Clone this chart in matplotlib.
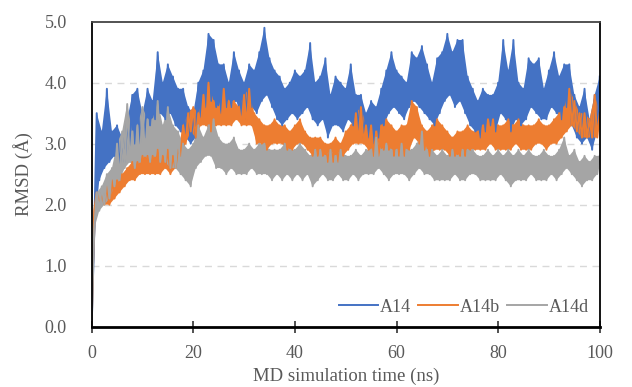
import numpy as np
import matplotlib
matplotlib.use('Agg')
from matplotlib import pyplot as plt

plt.rcParams['font.family'] = ['Liberation Serif', 'DejaVu Serif']

# RMSD: upper envelope at whole ns, lower envelope at half ns
a14_hi = [0.0, 3.5, 3.2, 3.9, 3.2, 3.3, 3.1, 3.4, 3.8, 3.9,
          3.5, 3.9, 3.7, 4.5, 4.0, 4.3, 4.1, 3.9, 3.9, 3.6,
          3.5, 4.0, 4.2, 4.8, 4.7, 4.3, 4.3, 4.0, 4.5, 4.2,
          4.0, 4.3, 4.2, 4.5, 4.9, 4.4, 4.2, 4.1, 3.9, 4.0,
          4.2, 4.1, 4.2, 4.65, 4.0, 4.1, 4.4, 3.8, 4.1, 4.0,
          3.9, 4.3, 3.8, 3.8, 3.5, 3.7, 3.6, 3.9, 4.2, 4.5,
          4.2, 4.1, 4.0, 4.5, 4.4, 4.6, 4.3, 4.0, 4.4, 4.5,
          4.8, 4.5, 4.7, 4.7, 4.1, 3.9, 3.7, 3.9, 3.8, 3.8,
          4.0, 4.7, 4.2, 4.7, 4.0, 3.9, 4.4, 4.3, 4.4, 3.9,
          4.2, 4.5, 4.1, 4.3, 4.3, 3.8, 3.6, 3.9, 3.4, 3.8, 4.1]
a14_lo = [1.5, 2.4, 2.6, 2.7, 2.8, 2.6, 2.7, 2.9, 3.0, 3.0,
          3.1, 3.3, 3.4, 3.5, 3.4, 3.5, 3.3, 3.2, 3.1, 3.0,
          3.1, 3.4, 3.6, 3.7, 3.6, 3.5, 3.6, 3.6, 3.7, 3.4,
          3.4, 3.6, 3.5, 3.7, 3.8, 3.6, 3.4, 3.3, 3.4, 3.5,
          3.4, 3.5, 3.6, 3.4, 3.3, 3.4, 3.1, 3.3, 3.3, 3.2,
          3.4, 3.3, 3.2, 3.1, 3.1, 3.0, 3.1, 3.3, 3.5, 3.6,
          3.5, 3.4, 3.6, 3.7, 3.6, 3.5, 3.4, 3.3, 3.5, 3.7,
          3.8, 3.6, 3.7, 3.5, 3.3, 3.2, 3.1, 3.2, 3.3, 3.2,
          3.5, 3.4, 3.2, 3.4, 3.3, 3.4, 3.6, 3.5, 3.4, 3.4,
          3.6, 3.5, 3.4, 3.6, 3.3, 3.1, 3.0, 3.1, 2.9, 3.2]

a14b_hi = [0.0, 2.2, 2.2, 2.3, 2.4, 2.4, 2.5, 2.6, 2.7, 2.7,
           2.8, 2.8, 2.8, 2.9, 2.8, 2.9, 2.8, 2.9, 3.3, 3.5,
           3.6, 3.5, 3.8, 4.0, 3.7, 3.6, 3.9, 3.7, 3.7, 3.6,
           3.8, 3.9, 3.5, 3.4, 3.3, 3.3, 3.4, 3.3, 3.3, 3.2,
           3.3, 3.4, 3.2, 3.1, 3.1, 3.1, 3.0, 3.0, 3.1, 3.0,
           3.2, 3.3, 3.5, 3.6, 3.3, 3.3, 3.2, 3.3, 3.4, 3.3,
           3.2, 3.3, 3.3, 3.7, 3.6, 3.3, 3.2, 3.3, 3.4, 3.3,
           3.2, 3.1, 3.2, 3.2, 3.3, 3.2, 3.2, 3.3, 3.4, 3.4,
           3.3, 3.3, 3.4, 3.3, 3.4, 3.3, 3.3, 3.3, 3.4, 3.3,
           3.3, 3.4, 3.5, 3.6, 3.9, 3.7, 3.5, 3.5, 3.4, 3.8, 3.5]
a14b_lo = [1.9, 2.0, 2.0, 2.0, 2.1, 2.2, 2.3, 2.4, 2.4, 2.5,
           2.5, 2.5, 2.5, 2.5, 2.6, 2.5, 2.6, 2.8, 3.0, 3.2,
           3.1, 3.3, 3.3, 3.2, 3.3, 3.3, 3.3, 3.3, 3.4, 3.3,
           3.3, 3.3, 3.0, 3.0, 2.9, 3.0, 3.0, 3.0, 2.9, 2.9,
           3.0, 3.0, 2.9, 2.8, 2.8, 2.8, 2.7, 2.7, 2.7, 2.8,
           2.9, 3.0, 3.0, 3.0, 2.9, 2.8, 2.8, 2.9, 2.9, 2.8,
           2.8, 2.8, 2.9, 3.1, 3.0, 2.9, 2.8, 2.9, 2.9, 2.9,
           2.8, 2.8, 2.8, 2.8, 2.9, 2.9, 2.9, 2.9, 3.0, 2.9,
           2.9, 2.9, 2.9, 3.0, 2.9, 2.9, 2.9, 3.0, 3.0, 2.9,
           3.0, 3.0, 3.1, 3.2, 3.3, 3.2, 3.1, 3.1, 3.1, 3.1]

a14d_hi = [0.0, 2.2, 2.3, 2.5, 2.6, 3.0, 3.2, 3.65, 3.2, 3.3,
           3.6, 3.4, 3.4, 3.7, 3.3, 3.6, 3.3, 3.2, 3.0, 2.9,
           3.0, 3.3, 3.1, 3.3, 3.4, 3.1, 3.0, 3.0, 3.1, 2.9,
           2.9, 3.0, 2.9, 3.0, 3.0, 2.9, 2.9, 2.9, 3.0, 2.9,
           2.9, 3.0, 2.9, 2.8, 2.9, 2.9, 2.8, 2.9, 2.8, 2.9,
           2.8, 2.8, 2.9, 2.8, 2.9, 2.9, 3.1, 2.9, 3.0, 2.9,
           2.9, 3.0, 2.9, 2.9, 3.0, 3.2, 2.9, 2.9, 2.8, 2.9,
           2.8, 2.9, 2.8, 2.9, 2.9, 2.9, 2.8, 2.8, 2.9, 2.8,
           2.9, 2.8, 2.9, 2.8, 2.9, 2.8, 2.9, 2.8, 2.8, 2.9,
           2.8, 2.8, 2.9, 3.1, 2.8, 2.9, 2.7, 2.8, 2.7, 2.8, 2.8]
a14d_lo = [1.6, 1.9, 2.0, 2.1, 2.3, 2.4, 2.6, 2.7, 2.6, 2.7,
           2.8, 2.7, 2.8, 2.7, 2.7, 2.6, 2.6, 2.5, 2.4, 2.3,
           2.6, 2.7, 2.8, 2.8, 2.6, 2.6, 2.5, 2.6, 2.5, 2.5,
           2.5, 2.6, 2.5, 2.5, 2.5, 2.4, 2.5, 2.4, 2.5, 2.4,
           2.5, 2.4, 2.5, 2.3, 2.4, 2.5, 2.4, 2.4, 2.5, 2.4,
           2.4, 2.5, 2.4, 2.5, 2.5, 2.5, 2.6, 2.5, 2.4, 2.5,
           2.5, 2.5, 2.4, 2.5, 2.6, 2.5, 2.5, 2.4, 2.4, 2.4,
           2.4, 2.5, 2.4, 2.4, 2.5, 2.5, 2.4, 2.4, 2.4, 2.4,
           2.5, 2.4, 2.3, 2.4, 2.4, 2.4, 2.5, 2.4, 2.4, 2.4,
           2.5, 2.4, 2.5, 2.6, 2.5, 2.4, 2.3, 2.4, 2.4, 2.5]

labels = ['A14', 'A14b', 'A14d']
colors = ['#4472C4', '#ED7D31', '#A5A5A5']

t_hi = np.arange(0, 101)
t_lo = np.arange(0.5, 100, 1.0)


def weave(hi, lo):
    # alternate upper / lower readings in time order
    t = np.empty(len(t_hi) + len(t_lo))
    y = np.empty_like(t)
    t[0::2], t[1::2] = t_hi, t_lo
    y[0::2], y[1::2] = hi, lo
    return t, y


fig = plt.figure(figsize=(6.32, 3.87), dpi=100)
ax = fig.add_axes([0.145, 0.156, 0.804, 0.788])

series = [(a14_hi, a14_lo), (a14b_hi, a14b_lo), (a14d_hi, a14d_lo)]
for (hi, lo), lab, c in zip(series, labels, colors):
    # band between the two envelopes, then the trace on top of it
    ax.fill(np.concatenate([t_hi, t_lo[::-1]]), np.concatenate([hi, lo[::-1]]),
            color=c, lw=0)
    t, y = weave(hi, lo)
    ax.plot(t, y, color=c, lw=1.4, label=lab)

ax.set_xlim(0, 100)
ax.set_ylim(0, 5)
ax.set_xticks(range(0, 101, 20))
ax.set_yticks(np.arange(0, 5.01, 1.0))
ax.set_yticklabels([f'{v:.1f}' for v in np.arange(0, 5.01, 1.0)])
for v in [1, 2, 3, 4]:
    ax.axhline(v, color='#d9d9d9', lw=1, ls=(0, (5, 4)), zorder=0)

txt = '#595959'
ax.tick_params(axis='x', direction='inout', length=9, width=1.2, color='#333333',
               labelsize=13, labelcolor=txt, pad=9)
ax.tick_params(axis='y', length=0, labelsize=13, labelcolor=txt, pad=18)
ax.spines['bottom'].set_linewidth(2)
ax.spines['bottom'].set_color('black')
ax.spines['left'].set_linewidth(1.3)
ax.spines['right'].set_linewidth(1.3)
ax.spines['top'].set_linewidth(1.3)
ax.spines['top'].set_color('#444444')

ax.set_xlabel('MD simulation time (ns)', fontsize=13.5, color=txt, labelpad=4)
ax.set_ylabel('RMSD (Å)', fontsize=13.5, color=txt, labelpad=8)

ax.legend(loc='lower right', ncol=3, frameon=False, fontsize=13, labelcolor=txt,
          handlelength=2.2, handletextpad=0.1, columnspacing=0.4,
          bbox_to_anchor=(1.0, 0.0), borderaxespad=0.2)

plt.savefig('out.png', dpi=100)
plt.close(fig)
